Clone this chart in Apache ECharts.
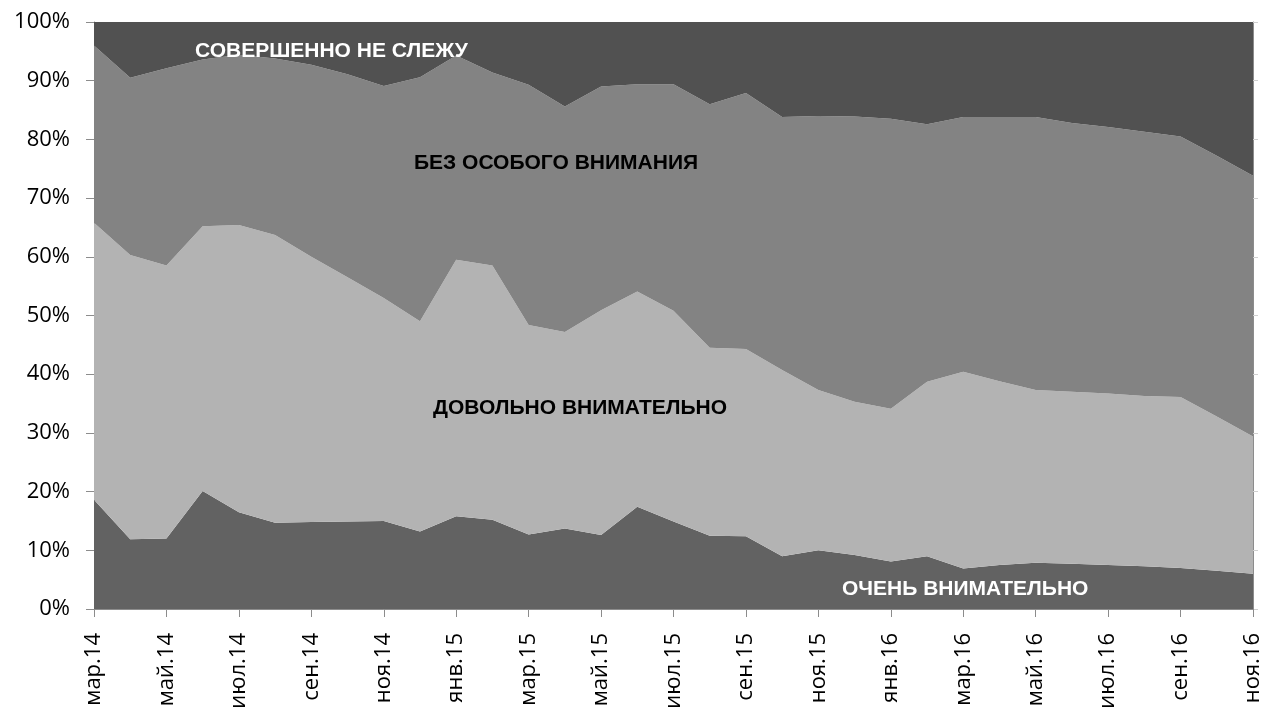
<!DOCTYPE html>
<html>
<head>
<meta charset="utf-8">
<script src="https://cdn.jsdelivr.net/npm/echarts@6/dist/echarts.min.js"></script>
<style>
  html, body { margin: 0; padding: 0; background: #fff; }
  #chart { width: 1264px; height: 712px; }
</style>
</head>
<body>
<div id="chart"></div>
<script>
// Monthly survey: how closely respondents follow the news (share, %)
const months = [
  'мар.14','апр.14','май.14','июн.14','июл.14','авг.14','сен.14','окт.14','ноя.14','дек.14',
  'янв.15','фев.15','мар.15','апр.15','май.15','июн.15','июл.15','авг.15','сен.15','окт.15',
  'ноя.15','дек.15','янв.16','фев.16','мар.16','апр.16','май.16','июн.16','июл.16','авг.16',
  'сен.16','окт.16','ноя.16'
];

const veryClosely = [
  18.6, 11.9, 12.0, 20.1, 16.5, 14.7, 14.8, 14.9, 15.0, 13.2,
  15.8, 15.2, 12.7, 13.7, 12.6, 17.4, 14.9, 12.5, 12.4, 9.0,
  10.0, 9.2, 8.1, 9.0, 6.9, 7.5, 7.9, 7.7, 7.5, 7.3,
  7.0, 6.5, 6.0
];

const fairlyClosely = [
  47.2, 48.4, 46.5, 45.1, 48.9, 49.0, 45.2, 41.6, 38.0, 35.8,
  43.7, 43.3, 35.7, 33.5, 38.3, 36.7, 35.9, 32.0, 31.9, 31.7,
  27.3, 26.1, 26.0, 29.7, 33.5, 31.3, 29.4, 29.3, 29.2, 29.0,
  29.1, 26.3, 23.4
];

const notParticularly = [
  30.2, 30.2, 33.6, 28.4, 29.0, 30.1, 32.7, 34.6, 36.1, 41.6,
  34.8, 32.9, 40.9, 38.4, 38.1, 35.3, 38.6, 41.5, 43.6, 43.1,
  46.7, 48.6, 49.4, 43.9, 43.4, 45.0, 46.5, 45.8, 45.4, 45.0,
  44.4, 44.4, 44.4
];

const notAtAll = [
  4.0, 9.5, 7.9, 6.4, 5.6, 6.2, 7.3, 8.9, 10.9, 9.4,
  5.7, 8.6, 10.7, 14.4, 11.0, 10.6, 10.6, 14.0, 12.1, 16.2,
  16.0, 16.1, 16.5, 17.4, 16.2, 16.2, 16.2, 17.2, 17.9, 18.7,
  19.5, 22.8, 26.2
];

const seriesNames = ['ОЧЕНЬ ВНИМАТЕЛЬНО', 'ДОВОЛЬНО ВНИМАТЕЛЬНО', 'БЕЗ ОСОБОГО ВНИМАНИЯ', 'СОВЕРШЕННО НЕ СЛЕЖУ'];
const seriesColors = ['#626262', '#b3b3b3', '#838383', '#515151'];
const seriesData = [veryClosely, fairlyClosely, notParticularly, notAtAll];

const axisGray = '#8c8c8c';
const tickFont = { fontFamily: 'Open Sans', fontSize: 22, color: '#000' };
const areaLabelFont = 'bold 21px "Liberation Sans", Arial, sans-serif';

const chart = echarts.init(document.getElementById('chart'));

chart.setOption({
  animation: false,
  backgroundColor: '#fff',
  grid: { left: 94, right: 11, top: 22, bottom: 103, containLabel: false },
  xAxis: [
    {
      type: 'category',
      data: months,
      boundaryGap: false,
      axisLine: { lineStyle: { color: axisGray, width: 1 } },
      axisTick: { show: true, interval: 1, length: 8, lineStyle: { color: axisGray } },
      axisLabel: Object.assign({ interval: 1, rotate: 90, margin: 24 }, tickFont),
      splitLine: { show: false }
    },
    {
      type: 'category',
      data: months,
      position: 'top',
      boundaryGap: false,
      axisLine: { lineStyle: { color: axisGray, width: 1 } },
      axisTick: { show: false },
      axisLabel: { show: false },
      splitLine: { show: false }
    }
  ],
  yAxis: [
    {
      type: 'value',
      min: 0,
      max: 100,
      interval: 10,
      axisLine: { show: true, lineStyle: { color: axisGray, width: 1 } },
      axisTick: { show: true, length: 8, lineStyle: { color: axisGray } },
      axisLabel: Object.assign({ margin: 24, formatter: '{value}%' }, tickFont),
      splitLine: { show: false }
    },
    {
      type: 'value',
      min: 0,
      max: 100,
      interval: 10,
      position: 'right',
      axisLine: { show: true, lineStyle: { color: axisGray, width: 1 } },
      axisTick: { show: true, length: 5, lineStyle: { color: '#d0d0d0' } },
      axisLabel: { show: false },
      splitLine: { show: false }
    }
  ],
  series: seriesData.map((values, i) => ({
    name: seriesNames[i],
    type: 'line',
    stack: 'share',
    data: values,
    symbol: 'none',
    smooth: false,
    lineStyle: { width: 0 },
    areaStyle: { color: seriesColors[i], opacity: 1 },
    itemStyle: { color: seriesColors[i] },
    z: 2
  })),
  graphic: [
    { type: 'text', left: 195, top: 41, z: 10,
      style: { text: seriesNames[3], fill: '#fff', font: areaLabelFont } },
    { type: 'text', left: 414, top: 153, z: 10,
      style: { text: seriesNames[2], fill: '#000', font: areaLabelFont } },
    { type: 'text', left: 433, top: 398, z: 10,
      style: { text: seriesNames[1], fill: '#000', font: areaLabelFont } },
    { type: 'text', left: 842, top: 579, z: 10,
      style: { text: seriesNames[0], fill: '#fff', font: areaLabelFont } }
  ]
});
</script>
</body>
</html>
